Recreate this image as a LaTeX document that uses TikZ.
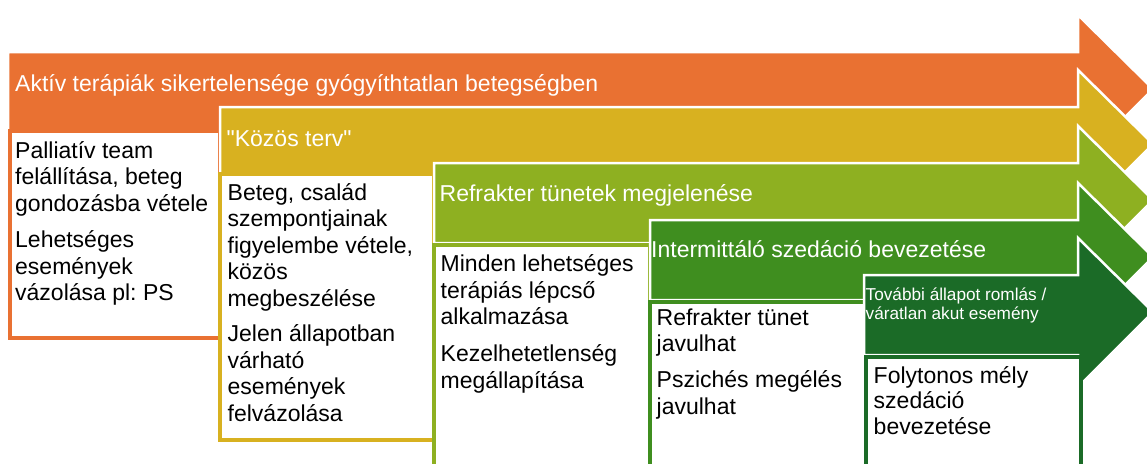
\documentclass[tikz,border=0pt]{standalone}
\usepackage{fontspec}
\newfontfamily\mf{Liberation Sans}
\frenchspacing
\definecolor{cA}{HTML}{E97132}
\definecolor{cB}{HTML}{D8B120}
\definecolor{cC}{HTML}{8EB021}
\definecolor{cD}{HTML}{3F8E1F}
\definecolor{cE}{HTML}{1B6B27}
\tikzset{
  arrowshape/.style={draw=white, line width=2.5pt, line join=miter},
  stepbox/.style={fill=white, line width=3.5pt, line join=miter},
  head/.style={font=\mf\frenchspacing\fontsize{23}{26.5}\selectfont, text=white, anchor=base west, inner sep=0pt},
  smallhead/.style={font=\mf\frenchspacing\fontsize{17.2}{20}\selectfont, text=white, anchor=base west, inner sep=0pt},
  body/.style={font=\mf\frenchspacing\fontsize{23}{26.5}\selectfont, text=black, anchor=base west, inner sep=0pt}
}
\newcommand\steparrow[3]{% color, left x, top y
  \path[arrowshape, fill=#1] (#2,#3) -- (1078,#3) -- (1078,#3-37) -- (1153,#3+37)
    -- (1078,#3+112) -- (1078,#3+80) -- (#2,#3+80) -- cycle;}
\begin{document}
\begin{tikzpicture}[x=1pt,y=-1pt]
\useasboundingbox (0,0) rectangle (1147,463);
\begin{scope}
\clip (0,0) rectangle (1147,463);
% step 1
\steparrow{cA}{8}{52}
\draw[stepbox, draw=cA] (10,131) rectangle (220,338);
% step 2
\steparrow{cB}{220}{107}
\draw[stepbox, draw=cB] (220,174) rectangle (434,440);
% step 3
\steparrow{cC}{434}{163}
\draw[stepbox, draw=cC] (434,245) rectangle (650,480);
% step 4
\steparrow{cD}{650}{220}
\draw[stepbox, draw=cD] (650,302) rectangle (866,480);
% step 5
\steparrow{cE}{864}{275}
\draw[stepbox, draw=cE] (866,357) rectangle (1081,480);
\end{scope}
% headings
\node[head] (h1) at (15,91) {Aktív terápiák sikertelensége gyógyíthtatlan betegségben};
\node[head] (h2) at (226.5,146) {"Közös terv"};
\node[head] (h3) at (439.5,201.5) {Refrakter tünetek megjelenése};
\node[head] (h4) at (651,257) {Intermittáló szedáció bevezetése};
\node[smallhead] (h5a) at (865.5,300) {További állapot romlás /};
\node[smallhead] (h5b) at (865.5,319) {váratlan akut esemény};
% step 1 texts
\foreach \s [count=\k from 0] in {Palliatív team, {felállítása, beteg}, gondozásba vétele}
  \node[body] (ta\k) at (15,158+26.5*\k) {\s};
\foreach \s [count=\k from 0] in {Lehetséges, események, vázolása pl: PS}
  \node[body] (tb\k) at (15,247.7+26.5*\k) {\s};
% step 2 texts
\foreach \s [count=\k from 0] in {{Beteg, család}, szempontjainak, {figyelembe vétele,}, közös, megbeszélése}
  \node[body] (tc\k) at (227.5,200+26.5*\k) {\s};
\foreach \s [count=\k from 0] in {Jelen állapotban, várható, események, felvázolása}
  \node[body] (td\k) at (227.5,341.7+26.5*\k) {\s};
% step 3 texts
\foreach \s [count=\k from 0] in {Minden lehetséges, terápiás lépcső, alkalmazása}
  \node[body] (te\k) at (440.5,271.7+26.5*\k) {\s};
\foreach \s [count=\k from 0] in {Kezelhetetlenség, megállapítása}
  \node[body] (tf\k) at (440.5,361.7+26.5*\k) {\s};
% step 4 texts
\foreach \s [count=\k from 0] in {Refrakter tünet, javulhat}
  \node[body] (tg\k) at (656.5,325+26.5*\k) {\s};
\foreach \s [count=\k from 0] in {Pszichés megélés, javulhat}
  \node[body] (th\k) at (656.5,387.7+26.5*\k) {\s};
% step 5 texts
\foreach \s [count=\k from 0] in {Folytonos mély, szedáció, bevezetése}
  \node[body] (ti\k) at (873.5,383.3+25.5*\k) {\s};
\end{tikzpicture}
\end{document}
